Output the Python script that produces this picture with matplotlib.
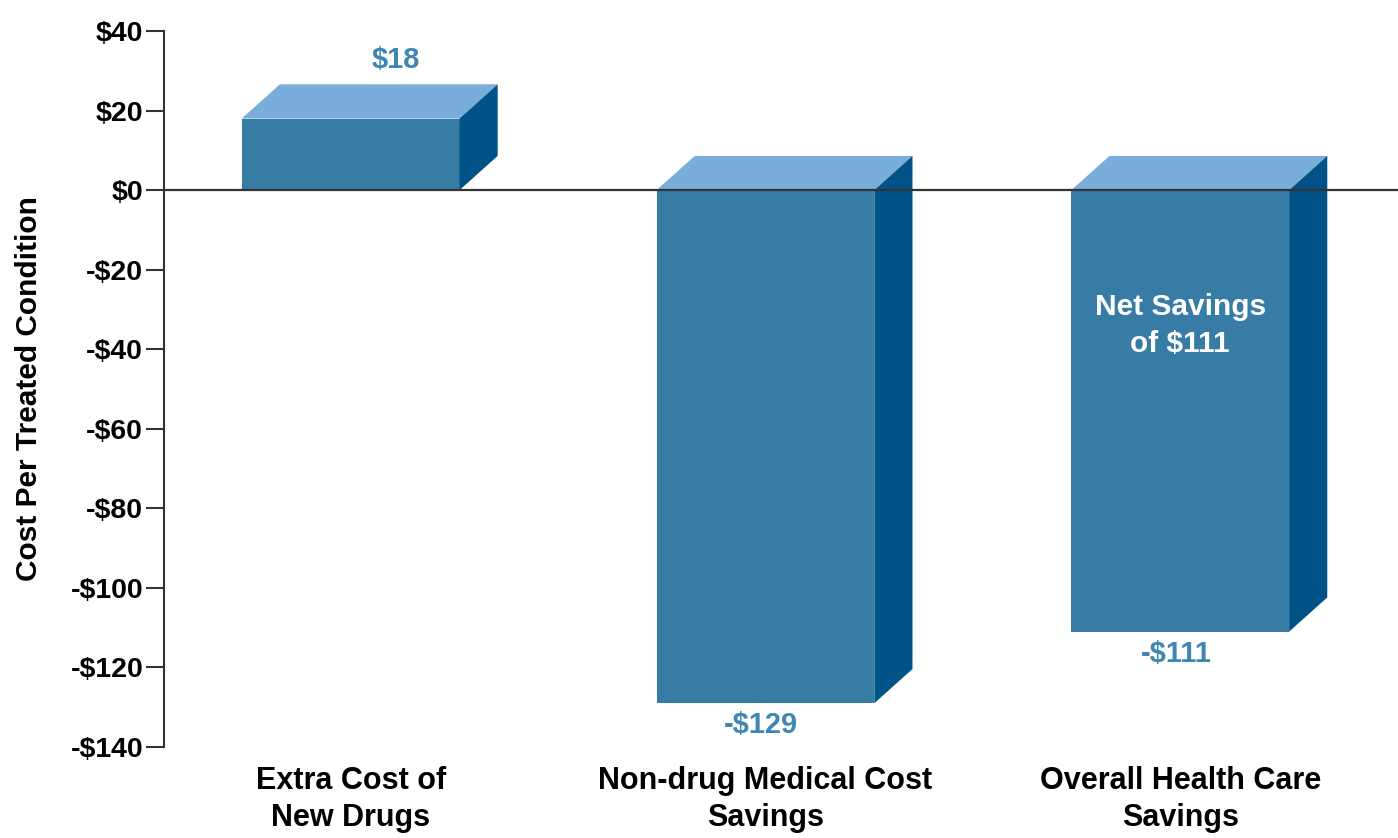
import matplotlib
matplotlib.use('Agg')
import matplotlib.pyplot as plt
from matplotlib.patches import Polygon

# data
categories = ["Extra Cost of\nNew Drugs", "Non-drug Medical Cost\nSavings", "Overall Health Care\nSavings"]
values = [18, -129, -111]
value_labels = ["$18", "-$129", "-$111"]
ytick_vals = [40, 20, 0, -20, -40, -60, -80, -100, -120, -140]
ytick_labels = ["$40", "$20", "$0", "-$20", "-$40", "-$60", "-$80", "-$100", "-$120", "-$140"]
note_text = "Net Savings\nof $111"

FRONT = "#377ca5"
TOP = "#79addb"
SIDE = "#015287"
LABEL = "#3f86b3"

plt.rcParams['font.family'] = ['Liberation Sans', 'DejaVu Sans']

fig = plt.figure(figsize=(13.98, 8.38), dpi=100)
ax = fig.add_axes([0.1173, 0.1086, 0.8827, 0.8544])

width = 0.525
dx, dy = 0.092, 8.6   # 3D depth offset

for i, v in enumerate(values):
    x0, x1 = i - width / 2, i + width / 2
    top = max(v, 0)
    bot = min(v, 0)
    ax.add_patch(Polygon([(x0, bot), (x1, bot), (x1, top), (x0, top)],
                         closed=True, facecolor=FRONT, edgecolor='none', zorder=2))
    ax.add_patch(Polygon([(x0, top), (x1, top), (x1 + dx, top + dy), (x0 + dx, top + dy)],
                         closed=True, facecolor=TOP, edgecolor='none', zorder=2))
    ax.add_patch(Polygon([(x1, bot), (x1 + dx, bot + dy), (x1 + dx, top + dy), (x1, top)],
                         closed=True, facecolor=SIDE, edgecolor='none', zorder=2))
    if v > 0:
        ax.text(i + 0.11, top + dy + 2.5, value_labels[i], ha='center', va='bottom',
                color=LABEL, fontsize=21, fontweight='bold')
    else:
        ax.text(i - 0.01, bot - 2, value_labels[i], ha='center', va='top',
                color=LABEL, fontsize=21, fontweight='bold')

ax.text(2, -34, note_text, ha='center', va='center', color='white',
        fontsize=21.5, fontweight='bold', linespacing=1.4)

ax.axhline(0, color='#333333', lw=1.6, zorder=3)

ax.set_xlim(-0.45, 2.525)
ax.set_ylim(-140, 40)
ax.set_yticks(ytick_vals)
ax.set_yticklabels(ytick_labels, fontsize=20.5, fontweight='bold')
ax.set_xticks(range(len(categories)))
ax.set_xticklabels(categories, fontsize=22, fontweight='bold', linespacing=1.3)
ax.tick_params(axis='y', length=13, width=1.5, color='#333333', pad=2)
ax.tick_params(axis='x', length=0, pad=14)
ax.set_ylabel("Cost Per Treated Condition", fontsize=21.5, fontweight='bold', labelpad=20)

for s in ['top', 'right', 'bottom']:
    ax.spines[s].set_visible(False)
ax.spines['left'].set_linewidth(1.5)
ax.spines['left'].set_color('#333333')

fig.savefig("out.png", dpi=100)
